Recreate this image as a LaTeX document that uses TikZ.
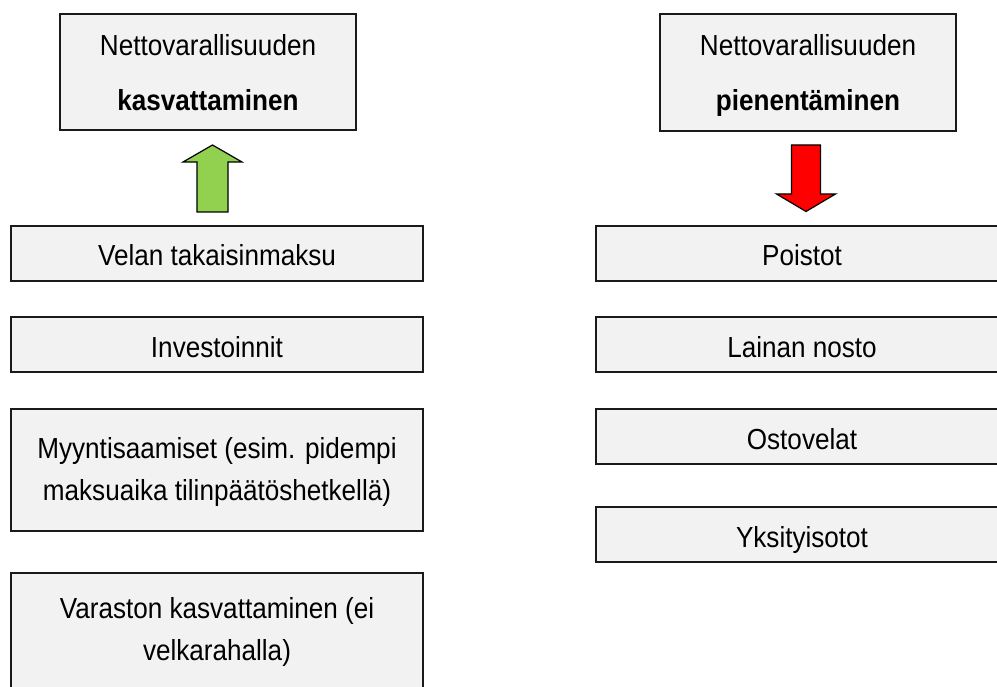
\documentclass[tikz,border=0pt]{standalone}
\usepackage{fontspec}
\setmainfont[FakeStretch=0.9]{Liberation Sans}
\definecolor{boxfill}{HTML}{F2F2F2}
\definecolor{boxline}{HTML}{1A1A1A}
\definecolor{upgreen}{HTML}{92D050}
\definecolor{downred}{HTML}{FF0000}
\tikzset{
  box/.style={draw=boxline, line width=1.6pt, fill=boxfill, rectangle, inner sep=0pt, minimum width=#1},
  box/.default=412pt,
  txt/.style={anchor=base, inner sep=0pt, font=\fontsize{29}{35}\selectfont},
  blockarrow/.style={draw=black, line width=1.2pt, line join=miter}
}
\begin{document}
\begin{tikzpicture}[x=1pt, y=-1pt]
\useasboundingbox (0,0) rectangle (997,687);
\clip (0,0) rectangle (997,687);
% top boxes
\node[box=296pt, minimum height=116pt] (topL) at (208,72) {};
\node[box=296pt, minimum height=117pt] (topR) at (808,72.5) {};
\node[txt] (topL1) at (208,56) {Nettovarallisuuden};
\node[txt] (topL2) at (208,111) {\bfseries kasvattaminen};
\node[txt] (topR1) at (808,56) {Nettovarallisuuden};
\node[txt] (topR2) at (808,111) {\bfseries pienentäminen};
% block arrows
\filldraw[blockarrow, fill=upgreen] (197,212) -- (197,162) -- (183,162) -- (212.5,145) -- (242,162) -- (228,162) -- (228,212) -- cycle;
\filldraw[blockarrow, fill=downred] (791.5,145) -- (820.5,145) -- (820.5,194) -- (835.5,194) -- (806,211.5) -- (776.5,194) -- (791.5,194) -- cycle;
% left column
\node[box, minimum height=55pt] (L1) at (217,253.5) {};
\node[box, minimum height=55pt] (L2) at (217,344.5) {};
\node[box, minimum height=122pt] (L3) at (217,470) {};
\node[box, minimum height=140pt] (L4) at (217,643) {};
\node[txt] (L1t) at (217,266) {Velan takaisinmaksu};
\node[txt] (L2t) at (217,357) {Investoinnit};
\node[txt] (L3a) at (217,458) {Myyntisaamiset (esim. pidempi};
\node[txt] (L3b) at (217,500) {maksuaika tilinpäätöshetkellä)};
\node[txt] (L4a) at (217,618) {Varaston kasvattaminen (ei};
\node[txt] (L4b) at (217,660) {velkarahalla)};
% right column
\node[box, minimum height=55pt] (R1) at (802,253.5) {};
\node[box, minimum height=55pt] (R2) at (802,344.5) {};
\node[box, minimum height=55pt] (R3) at (802,436.5) {};
\node[box, minimum height=55pt] (R4) at (802,534.5) {};
\node[txt] (R1t) at (802,266) {Poistot};
\node[txt] (R2t) at (802,357) {Lainan nosto};
\node[txt] (R3t) at (802,449) {Ostovelat};
\node[txt] (R4t) at (802,547) {Yksityisotot};
\end{tikzpicture}
\end{document}
